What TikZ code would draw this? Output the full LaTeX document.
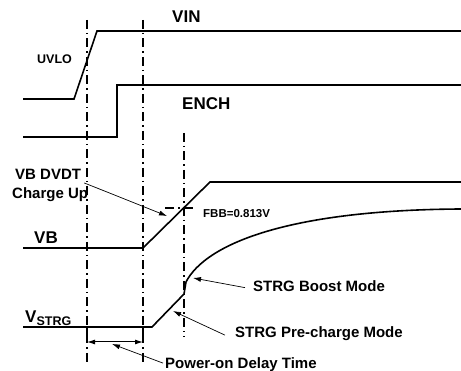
\documentclass[tikz,border=0pt]{standalone}
\usepackage{fontspec}
\setmainfont{Liberation Sans}
\usetikzlibrary{arrows.meta}
\begin{document}
\begin{tikzpicture}[x=1pt,y=-1pt,
    signal/.style={line width=1.6pt, line join=miter},
    marker/.style={line width=1.4pt, dash pattern=on 9pt off 4pt on 1.5pt off 4pt},
    pointer/.style={line width=0.7pt, -{Latex[length=8pt,width=5pt]}},
    lbl/.style={inner sep=0pt, anchor=base west, font=\bfseries\fontsize{15}{17}\selectfont},
    biglbl/.style={lbl, font=\bfseries\fontsize{17}{19}\selectfont},
    smalllbl/.style={lbl, font=\bfseries\fontsize{12.5}{14}\selectfont}]
    \useasboundingbox (0,0) rectangle (461,371);

    \draw[signal] (23,99) -- (74,99) -- (97,31) -- (461,31);
    \draw[signal] (23,137) -- (117,137) -- (117,85) -- (461,85);
    \draw[signal] (23,248) -- (143,248) -- (210,182) -- (461,182);
    \draw[signal] (23,327) -- (152,327) -- (184,294) -- (186,282)
      .. controls (205,245) and (285,210) .. (461,209);

    \draw[marker] (87,20) -- (87,365);
    \draw[marker] (143,20) -- (143,365);
    \draw[marker] (184,133) -- (184,337);
    \draw[marker] (165,208) -- (194,208);

    \node[biglbl] (vin) at (172,23) {VIN};
    \node[smalllbl] (uvlo) at (37,64) {UVLO};
    \node[biglbl] (ench) at (182,110) {ENCH};
    \node[biglbl] (vb) at (34,244) {VB};
    \node[lbl] (dvdt) at (15,180) {VB DVDT};
    \node[lbl] (charge) at (12,199) {Charge Up};
    \node[smalllbl, font=\bfseries\fontsize{11.5}{13}\selectfont] (fbb) at (203,218) {FBB=0.813V};
    \node[biglbl] (vstrg) at (25,323) {V\raisebox{-2.5pt}{\fontsize{12.5}{14}\selectfont STRG}};
    \node[lbl] (boost) at (253,292) {STRG Boost Mode};
    \node[lbl] (pre) at (235,338) {STRG Pre-charge Mode};
    \node[lbl] (power) at (165,369) {Power-on Delay Time};

    \coordinate (dvdttip) at (167,216);
    \coordinate (boosttip) at (193,278);
    \coordinate (pretip) at (173,311);
    \coordinate (delaytip) at (112,344);
    \coordinate (delayl) at (87,342);
    \coordinate (delayr) at (143,342);

    \draw[line width=1.4pt] (87,327) -- (delayl);
    \draw[line width=1.4pt] (143,327) -- (delayr);
    \draw[line width=1pt, {Latex[length=8pt,width=5pt]}-{Latex[length=8pt,width=5pt]}] (delayl) -- (delayr);

    \draw[pointer] ([xshift=-4pt,yshift=5pt]charge.north east) -- (dvdttip);
    \draw[pointer] ([xshift=-8pt,yshift=-1pt]boost.west) -- (boosttip);
    \draw[pointer] ([xshift=-10pt,yshift=-1pt]pre.west) -- (pretip);
    \draw[pointer] ([xshift=-2pt,yshift=2pt]power.west) -- (delaytip);
\end{tikzpicture}
\end{document}
